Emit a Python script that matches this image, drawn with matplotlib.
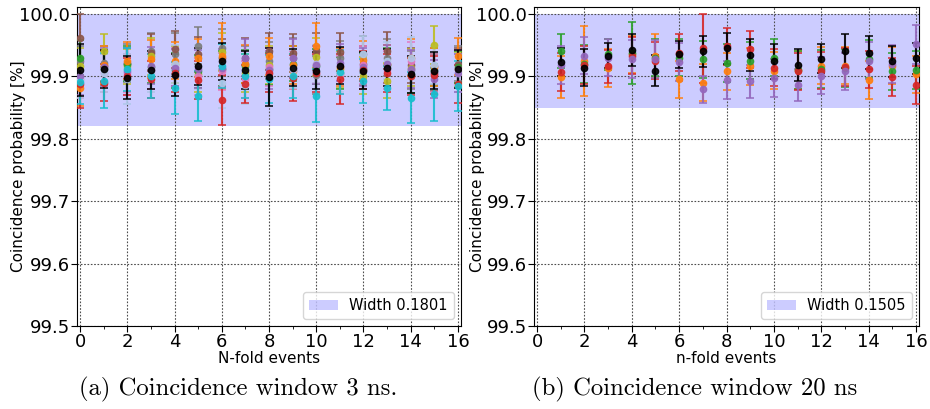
import numpy as np
import matplotlib
matplotlib.use("Agg")
import matplotlib.pyplot as plt

# ---------------- data (left panel: 3 ns window) ----------------
x_left = list(range(0, 17))
left_colors = ["#7f7f7f", "#8c564b", "#bcbd22", "#2ca02c", "#ff7f0e", "#e377c2",
               "#aec7e8", "#9467bd", "#d62728", "#17becf", "black"]
left_vals = {
    "gray":      [99.924, 99.921, 99.921, 99.940, 99.936, 99.949, 99.946, 99.919, 99.925, 99.930, 99.902, 99.929, 99.935, 99.930, 99.910, 99.916, 99.920],
    "brown":     [99.961, 99.916, 99.920, 99.938, 99.943, 99.935, 99.930, 99.929, 99.940, 99.937, 99.940, 99.939, 99.920, 99.941, 99.918, 99.906, 99.918],
    "olive":     [99.916, 99.941, 99.916, 99.932, 99.919, 99.903, 99.939, 99.905, 99.918, 99.908, 99.931, 99.911, 99.901, 99.893, 99.914, 99.950, 99.911],
    "green":     [99.930, 99.911, 99.920, 99.915, 99.910, 99.908, 99.912, 99.916, 99.912, 99.920, 99.916, 99.905, 99.912, 99.918, 99.902, 99.910, 99.915],
    "orange":    [99.882, 99.918, 99.925, 99.928, 99.925, 99.929, 99.932, 99.920, 99.932, 99.918, 99.949, 99.915, 99.926, 99.920, 99.930, 99.915, 99.932],
    "pink":      [99.895, 99.905, 99.905, 99.910, 99.915, 99.900, 99.908, 99.895, 99.915, 99.910, 99.920, 99.902, 99.918, 99.910, 99.925, 99.905, 99.912],
    "lightblue": [99.895, 99.905, 99.895, 99.905, 99.920, 99.915, 99.890, 99.886, 99.905, 99.912, 99.920, 99.905, 99.935, 99.925, 99.929, 99.918, 99.905],
    "purple":    [99.900, 99.915, 99.908, 99.917, 99.914, 99.912, 99.913, 99.930, 99.910, 99.929, 99.918, 99.922, 99.915, 99.920, 99.912, 99.896, 99.905],
    "red":       [99.887, 99.890, 99.900, 99.895, 99.905, 99.894, 99.862, 99.888, 99.905, 99.897, 99.905, 99.896, 99.910, 99.905, 99.900, 99.902, 99.888],
    "cyan":      [99.891, 99.893, 99.911, 99.900, 99.881, 99.869, 99.917, 99.900, 99.896, 99.901, 99.869, 99.907, 99.892, 99.881, 99.866, 99.871, 99.885],
    "black":     [99.910, 99.912, 99.898, 99.910, 99.902, 99.916, 99.924, 99.910, 99.899, 99.914, 99.909, 99.917, 99.909, 99.914, 99.903, 99.909, 99.912],
}
left_errs = {
    "gray":      [0.025, 0.028, 0.030, 0.030, 0.033, 0.030, 0.030, 0.030, 0.030, 0.032, 0.030, 0.028, 0.030, 0.030, 0.030, 0.030, 0.028],
    "brown":     [0.039, 0.025, 0.025, 0.030, 0.030, 0.028, 0.030, 0.033, 0.030, 0.030, 0.030, 0.030, 0.028, 0.030, 0.028, 0.030, 0.028],
    "olive":     [0.030, 0.026, 0.028, 0.030, 0.030, 0.028, 0.030, 0.030, 0.030, 0.028, 0.030, 0.030, 0.030, 0.028, 0.030, 0.030, 0.028],
    "green":     [0.028, 0.025, 0.028, 0.026, 0.028, 0.026, 0.028, 0.026, 0.026, 0.028, 0.028, 0.026, 0.026, 0.028, 0.028, 0.026, 0.026],
    "orange":    [0.030, 0.030, 0.030, 0.030, 0.030, 0.030, 0.053, 0.030, 0.030, 0.030, 0.036, 0.030, 0.030, 0.030, 0.030, 0.030, 0.030],
    "pink":      [0.030, 0.030, 0.030, 0.030, 0.030, 0.030, 0.030, 0.030, 0.030, 0.030, 0.030, 0.030, 0.030, 0.030, 0.030, 0.030, 0.030],
    "lightblue": [0.030, 0.030, 0.040, 0.030, 0.030, 0.035, 0.040, 0.030, 0.030, 0.030, 0.030, 0.030, 0.030, 0.030, 0.034, 0.030, 0.030],
    "purple":    [0.030, 0.030, 0.038, 0.030, 0.030, 0.030, 0.030, 0.030, 0.030, 0.030, 0.030, 0.030, 0.030, 0.030, 0.030, 0.030, 0.030],
    "red":       [0.038, 0.030, 0.030, 0.030, 0.030, 0.030, 0.040, 0.030, 0.030, 0.037, 0.030, 0.040, 0.030, 0.030, 0.030, 0.030, 0.030],
    "cyan":      [0.036, 0.044, 0.035, 0.035, 0.042, 0.040, 0.035, 0.035, 0.038, 0.035, 0.042, 0.035, 0.035, 0.035, 0.041, 0.042, 0.040],
    "black":     [0.041, 0.030, 0.035, 0.030, 0.033, 0.030, 0.030, 0.030, 0.047, 0.030, 0.030, 0.030, 0.030, 0.030, 0.030, 0.030, 0.030],
}
left_width = 0.1801
left_band_low = 100.0 - left_width

# ---------------- data (right panel: 20 ns window) ----------------
x_right = list(range(1, 17))
right_colors = ["#ff7f0e", "#2ca02c", "#d62728", "#9467bd", "black"]
right_vals = {
    "orange": [99.899, 99.925, 99.913, 99.935, 99.932, 99.895, 99.890, 99.908, 99.916, 99.909, 99.910, 99.917, 99.917, 99.894, 99.917, 99.903],
    "green":  [99.940, 99.920, 99.935, 99.937, 99.930, 99.930, 99.927, 99.921, 99.925, 99.930, 99.910, 99.912, 99.913, 99.928, 99.908, 99.910],
    "red":    [99.907, 99.918, 99.916, 99.933, 99.925, 99.938, 99.945, 99.948, 99.943, 99.914, 99.908, 99.909, 99.915, 99.911, 99.899, 99.886],
    "purple": [99.918, 99.933, 99.930, 99.928, 99.928, 99.923, 99.879, 99.894, 99.892, 99.897, 99.886, 99.901, 99.908, 99.925, 99.920, 99.951],
    "black":  [99.923, 99.914, 99.933, 99.942, 99.909, 99.935, 99.940, 99.945, 99.934, 99.924, 99.918, 99.928, 99.940, 99.938, 99.924, 99.929],
}
right_errs = {
    "orange": [0.034, 0.056, 0.030, 0.030, 0.035, 0.030, 0.030, 0.030, 0.030, 0.030, 0.030, 0.030, 0.030, 0.030, 0.030, 0.030],
    "green":  [0.027, 0.030, 0.025, 0.050, 0.030, 0.030, 0.030, 0.030, 0.030, 0.030, 0.030, 0.030, 0.030, 0.030, 0.030, 0.030],
    "red":    [0.030, 0.030, 0.026, 0.030, 0.030, 0.030, 0.055, 0.030, 0.030, 0.030, 0.030, 0.030, 0.030, 0.030, 0.030, 0.030],
    "purple": [0.030, 0.030, 0.030, 0.030, 0.030, 0.030, 0.022, 0.030, 0.026, 0.030, 0.025, 0.030, 0.030, 0.030, 0.030, 0.031],
    "black":  [0.022, 0.029, 0.020, 0.025, 0.025, 0.022, 0.025, 0.025, 0.025, 0.028, 0.026, 0.023, 0.027, 0.027, 0.025, 0.025],
}
right_width = 0.1505
right_band_low = 100.0 - right_width

y_ticks = [99.5, 99.6, 99.7, 99.8, 99.9, 100.0]
x_ticks = list(range(0, 17, 2))

plt.rcParams['font.family'] = ['DejaVu Sans']

fig = plt.figure(figsize=(9.3, 4.09), dpi=100)
ax1 = fig.add_axes([0.0828, 0.2029, 0.4129, 0.7800])
ax2 = fig.add_axes([0.5742, 0.2029, 0.4140, 0.7800])


def draw(ax, xs, vals, errs, colors, band_low, width, xlabel, ylab_x):
    ax.axhspan(band_low, 100.0, color='blue', alpha=0.2, lw=0,
               label='Width %.4f' % width, zorder=0)
    for (name, v), c in zip(vals.items(), colors):
        ax.errorbar(xs, v, yerr=errs[name], fmt='o', color=c, ms=4.5,
                    capsize=3, elinewidth=1.5, capthick=1.2, alpha=0.9, zorder=3)
    ax.set_xlim(-0.13, 16.13)
    ax.set_ylim(99.5, 100.011)
    ax.set_yticks(y_ticks)
    ax.set_yticklabels(['%.1f' % t for t in y_ticks])
    ax.set_xticks(x_ticks)
    ax.set_xticks(range(0, 17), minor=True)
    ax.tick_params(labelsize=13, length=4, pad=1)
    ax.tick_params(which='minor', length=2.5)
    ax.grid(True, which='major', linestyle=(0, (1.5, 1.5)), color='0.3', lw=0.8)
    ax.set_axisbelow(True)
    ax.set_xlabel(xlabel, fontsize=11, labelpad=0)
    ax.set_ylabel('Coincidence probability [%]', fontsize=11)
    ax.yaxis.set_label_coords(ylab_x, 0.5)
    ax.legend(loc='lower right', fontsize=10.5, handlelength=2.0, borderpad=0.4)


draw(ax1, x_left, left_vals, left_errs, left_colors, left_band_low, left_width,
     'N-fold events', -0.134)
draw(ax2, x_right, right_vals, right_errs, right_colors, right_band_low, right_width,
     'n-fold events', -0.128)

fig.text(0.256, 0.047, '(a) Coincidence window 3 ns.', family='cmr10', fontsize=17.8,
         ha='center', va='center')
fig.text(0.747, 0.047, '(b) Coincidence window 20 ns', family='cmr10', fontsize=17.8,
         ha='center', va='center')

fig.savefig('out.png', dpi=100)
